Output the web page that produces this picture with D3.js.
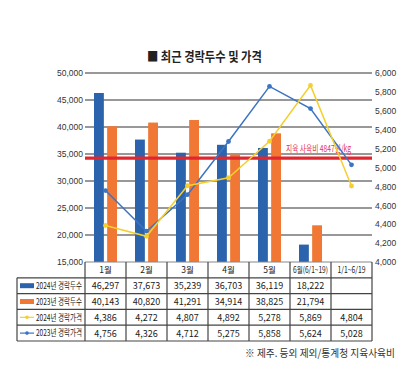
<!DOCTYPE html>
<html>
<head>
<meta charset="utf-8">
<script src="https://cdn.jsdelivr.net/npm/d3@7"></script>
<style>
  body { margin: 0; background: #fff; }
  svg text { font-family: "Liberation Sans Narrow", "Noto Sans CJK KR", sans-serif; }
</style>
</head>
<body>
<svg id="chart" width="407" height="370"></svg>
<script>
// chart values
const categories = ["1월", "2월", "3월", "4월", "5월", "6월(6/1~19)", "1/1~6/19"];
const heads2024 = [46297, 37673, 35239, 36703, 36119, 18222, null];
const heads2023 = [40143, 40820, 41291, 34914, 38825, 21794, null];
const price2024 = [4386, 4272, 4807, 4892, 5278, 5869, 4804];
const price2023 = [4756, 4326, 4712, 5275, 5858, 5624, 5028];
const leftTicks = [15000, 20000, 25000, 30000, 35000, 40000, 45000, 50000];
const rightTicks = [4000, 4200, 4400, 4600, 4800, 5000, 5200, 5400, 5600, 5800, 6000];
const costLine = 5100; // where the 사육비 line sits on the price axis
const costLabel = "지육 사육비 4847원/kg";
const rowNames = ["2024년 경락두수", "2023년 경락두수", "2024년 경락가격", "2023년 경락가격"];

const BLUE = "#2c63ad", ORANGE = "#f07834", YELLOW = "#f4cf2e", LBLUE = "#3b74c2";

const svg = d3.select("#chart");
const plotL = 85, plotR = 372, plotT = 73, plotB = 262;

// squeeze a text horizontally so it is at most w wide (keeps real bbox)
function squeeze(sel, px, py, w) {
  const len = sel.node().getComputedTextLength();
  const s = Math.min(1, w / len);
  sel.attr("x", 0).attr("y", 0)
    .attr("transform", `translate(${px},${py}) scale(${s},1)`);
  return sel;
}

// scales
const x = d3.scaleBand().domain(categories).range([plotL, plotR]);
const yL = d3.scaleLinear().domain([15000, 50000]).range([plotB, plotT]);
const yR = d3.scaleLinear().domain([4000, 6000]).range([plotB, plotT]);
const sub = d3.scaleBand().domain(["2024", "2023"]).range([-11.5, 11.5]).paddingInner(0.25);

// title
squeeze(svg.append("text")
  .attr("font-size", 13).attr("font-weight", "bold")
  .style("font-family", "'Noto Sans CJK KR', sans-serif")
  .attr("fill", "#222")
  .text("■ 최근 경락두수 및 가격"), 147, 61, 115);

// gridlines
svg.append("g").selectAll("line")
  .data(leftTicks.slice(1))
  .join("line")
  .attr("x1", plotL).attr("x2", plotR)
  .attr("y1", d => yL(d)).attr("y2", d => yL(d))
  .attr("stroke", "#333").attr("stroke-width", 1.2);

// left axis
const axL = svg.append("g").attr("transform", `translate(${plotL},0)`)
  .call(d3.axisLeft(yL).tickValues(leftTicks).tickSize(0).tickPadding(2).tickFormat(d3.format(",")));
axL.select(".domain").remove();
axL.selectAll("text").attr("font-size", 8.5).attr("fill", "#333")
  .style("font-family", "'Liberation Sans Narrow', sans-serif");

// right axis
const axR = svg.append("g").attr("transform", `translate(${plotR},0)`)
  .call(d3.axisRight(yR).tickValues(rightTicks).tickSize(0).tickPadding(3).tickFormat(d3.format(",")));
axR.select(".domain").remove();
axR.selectAll("text").attr("font-size", 8.5).attr("fill", "#333")
  .style("font-family", "'Liberation Sans Narrow', sans-serif");

// bars
const barData = [];
categories.forEach((c, i) => {
  if (heads2024[i] != null) barData.push({ c, s: "2024", v: heads2024[i] });
  if (heads2023[i] != null) barData.push({ c, s: "2023", v: heads2023[i] });
});
svg.append("g").selectAll("rect")
  .data(barData)
  .join("rect")
  .attr("x", d => x(d.c) + x.bandwidth() / 2 + sub(d.s))
  .attr("width", sub.bandwidth())
  .attr("y", d => yL(d.v))
  .attr("height", d => plotB - yL(d.v))
  .attr("fill", d => d.s === "2024" ? BLUE : ORANGE);

// cost line
svg.append("line")
  .attr("x1", plotL).attr("x2", plotR)
  .attr("y1", yR(costLine)).attr("y2", yR(costLine))
  .attr("stroke", "#e2262f").attr("stroke-width", 3.2);
squeeze(svg.append("text")
  .attr("font-size", 9.5).attr("fill", "#e5305a")
  .text(costLabel), 286, yR(costLine) - 6, 65);

// price lines
const line = d3.line()
  .x((d, i) => x(categories[i]) + x.bandwidth() / 2)
  .y(d => yR(d));

[[price2023, LBLUE], [price2024, YELLOW]].forEach(([vals, col]) => {
  svg.append("path").datum(vals)
    .attr("d", line).attr("fill", "none")
    .attr("stroke", col).attr("stroke-width", 1.5);
  svg.append("g").selectAll("circle")
    .data(vals)
    .join("circle")
    .attr("cx", (d, i) => x(categories[i]) + x.bandwidth() / 2)
    .attr("cy", d => yR(d))
    .attr("r", 2.4)
    .attr("fill", col);
});

// data table
const rows = d3.scaleBand().domain(["head", ...rowNames]).range([plotB, 341]);
const tableVals = [heads2024, heads2023, price2024, price2023];
const tbl = svg.append("g");
const fmt = d3.format(",");

// header cells (long labels squeezed to fit their cell)
const headWidth = { "6월(6/1~19)": 35, "1/1~6/19": 28 };
categories.forEach(c => {
  const t = tbl.append("text")
    .attr("text-anchor", "middle")
    .attr("font-size", 8.5).attr("fill", "#222")
    .text(c);
  squeeze(t, x(c) + x.bandwidth() / 2, rows("head") + rows.bandwidth() / 2 + 3, headWidth[c] || 40);
});

// value cells
rowNames.forEach((r, ri) => {
  tbl.append("g").selectAll("text")
    .data(tableVals[ri])
    .join("text")
    .attr("x", (d, i) => x(categories[i]) + x.bandwidth() / 2)
    .attr("y", rows(r) + rows.bandwidth() / 2 + 3.5)
    .attr("text-anchor", "middle")
    .attr("font-size", 9).attr("fill", "#222")
    .text(d => d == null ? "" : fmt(d));

  // row label
  squeeze(tbl.append("text")
    .attr("font-size", 9).attr("fill", "#222")
    .text(r), 36, rows(r) + rows.bandwidth() / 2 + 3.2, 46);

  const cy = rows(r) + rows.bandwidth() / 2;
  if (ri < 2) {
    tbl.append("rect").attr("x", 20).attr("y", cy - 2.5).attr("width", 14).attr("height", 5)
      .attr("fill", ri === 0 ? BLUE : ORANGE);
  } else {
    const col = ri === 2 ? YELLOW : LBLUE;
    tbl.append("line").attr("x1", 20).attr("x2", 34).attr("y1", cy).attr("y2", cy)
      .attr("stroke", col).attr("stroke-width", 1.2);
    tbl.append("circle").attr("cx", 27).attr("cy", cy).attr("r", 1.8).attr("fill", col);
  }
});

// table grid
const gridCol = "#444";
// horizontal lines
rows.domain().forEach((r, i) => {
  const y = rows(r);
  tbl.append("line")
    .attr("x1", i === 0 ? plotL : 17).attr("x2", plotR)
    .attr("y1", y).attr("y2", y)
    .attr("stroke", i === 0 ? "#888" : gridCol).attr("stroke-width", 1.2);
});
tbl.append("line").attr("x1", 17).attr("x2", plotR)
  .attr("y1", rows.range()[1]).attr("y2", rows.range()[1])
  .attr("stroke", gridCol).attr("stroke-width", 1.2);
// vertical lines
const colEdges = categories.map(c => x(c)).concat([plotR]);
colEdges.forEach(cx => {
  tbl.append("line")
    .attr("x1", cx).attr("x2", cx)
    .attr("y1", plotB).attr("y2", rows.range()[1])
    .attr("stroke", gridCol).attr("stroke-width", 1.2);
});
tbl.append("line").attr("x1", 17).attr("x2", 17)
  .attr("y1", rows(rowNames[0])).attr("y2", rows.range()[1])
  .attr("stroke", gridCol).attr("stroke-width", 1.2);

// footnote
squeeze(svg.append("text")
  .attr("font-size", 10.5).attr("fill", "#333")
  .style("font-family", "'Noto Sans CJK KR', sans-serif")
  .text("※ 제주. 등외 제외/통계청 지육사육비"), 245, 357, 150);
</script>
</body>
</html>
